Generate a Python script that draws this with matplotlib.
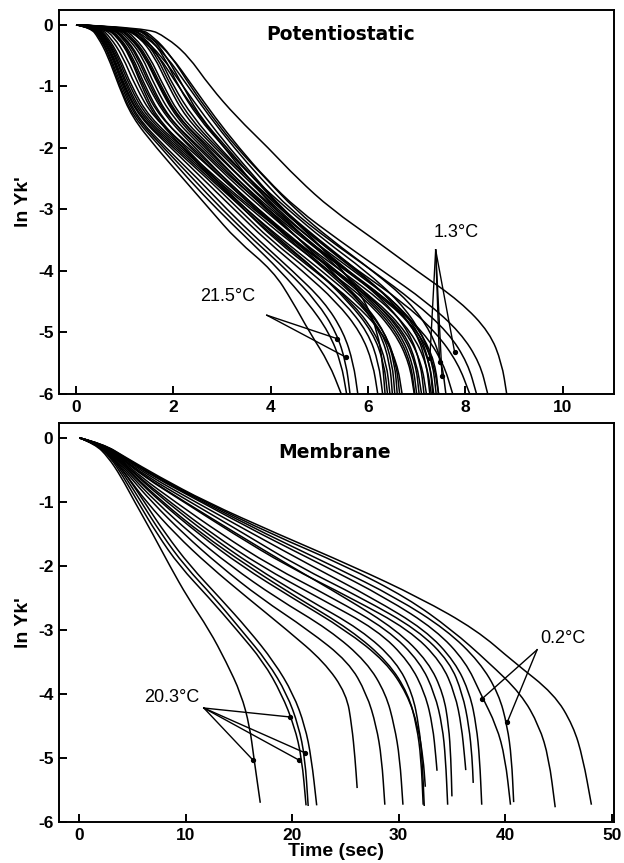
import matplotlib
matplotlib.use("Agg")
import matplotlib.pyplot as plt
from matplotlib.path import Path
from matplotlib.patches import PathPatch

plt.rcParams['font.family'] = ['Liberation Sans', 'DejaVu Sans']
plt.rcParams['axes.unicode_minus'] = False

# --- Potentiostatic: x (sec) where each curve crosses these ln Yk' levels
pot_levels = [0, -0.05, -0.2, -0.5, -1, -1.5, -2, -2.5, -3, -3.5, -4, -4.5, -5, -5.5, -6]
pot_x = [
    [0, 0.30, 0.45, 0.65, 0.88, 1.15, 1.65, 2.20, 2.75, 3.30, 4.05, 4.45, 4.80, 5.20, 5.45],
    [0, 0.32, 0.48, 0.68, 0.90, 1.18, 1.75, 2.30, 2.90, 3.55, 4.20, 4.75, 5.20, 5.45, 5.56],
    [0, 0.33, 0.50, 0.70, 0.93, 1.22, 1.80, 2.40, 3.00, 3.65, 4.35, 4.95, 5.35, 5.55, 5.63],
    [0, 0.35, 0.52, 0.73, 0.96, 1.25, 1.85, 2.50, 3.10, 3.75, 4.45, 5.10, 5.50, 5.70, 5.79],
    [0, 0.36, 0.54, 0.75, 0.98, 1.30, 1.95, 2.60, 3.25, 3.90, 4.65, 5.35, 5.85, 6.10, 6.20],
    [0, 0.38, 0.56, 0.77, 1.00, 1.32, 2.00, 2.70, 3.35, 4.00, 4.80, 5.50, 6.00, 6.22, 6.30],
    [0, 0.40, 0.58, 0.80, 1.03, 1.36, 2.05, 2.75, 3.45, 4.15, 4.95, 5.65, 6.15, 6.38, 6.45],
    [0, 0.42, 0.60, 0.82, 1.06, 1.40, 2.10, 2.80, 3.50, 4.25, 5.05, 5.80, 6.30, 6.50, 6.55],
    [0, 0.44, 0.62, 0.85, 1.10, 1.45, 2.15, 2.85, 3.60, 4.35, 5.20, 6.00, 6.55, 6.85, 6.95],
    [0, 0.46, 0.65, 0.88, 1.14, 1.50, 2.20, 2.90, 3.65, 4.45, 5.30, 6.15, 6.75, 7.00, 7.10],
    [0, 0.50, 0.70, 0.95, 1.22, 1.58, 2.30, 3.00, 3.70, 4.40, 5.15, 5.85, 6.35, 6.58, 6.65],
    [0, 0.55, 0.78, 1.02, 1.30, 1.62, 2.20, 2.80, 3.45, 4.10, 4.90, 5.70, 6.30, 6.60, 6.70],
    [0, 0.60, 0.85, 1.10, 1.35, 1.65, 2.25, 2.85, 3.50, 4.20, 4.95, 5.60, 6.10, 6.33, 6.40],
    [0, 0.62, 0.88, 1.12, 1.38, 1.72, 2.40, 3.05, 3.75, 4.50, 5.30, 6.05, 6.60, 6.88, 6.96],
    [0, 0.65, 0.90, 1.15, 1.42, 1.75, 2.35, 3.00, 3.70, 4.45, 5.35, 6.20, 6.80, 7.10, 7.20],
    [0, 0.70, 0.95, 1.20, 1.48, 1.85, 2.45, 3.05, 3.75, 4.45, 5.20, 5.90, 6.35, 6.55, 6.60],
    [0, 0.72, 0.98, 1.25, 1.52, 1.88, 2.55, 3.20, 3.95, 4.70, 5.55, 6.40, 7.05, 7.35, 7.45],
    [0, 0.75, 1.00, 1.28, 1.56, 1.90, 2.50, 3.15, 3.85, 4.60, 5.45, 6.30, 6.90, 7.20, 7.30],
    [0, 0.80, 1.05, 1.35, 1.62, 1.98, 2.60, 3.25, 3.90, 4.60, 5.35, 6.10, 6.65, 6.92, 7.00],
    [0, 0.85, 1.10, 1.40, 1.70, 2.05, 2.65, 3.30, 4.00, 4.75, 5.60, 6.45, 7.00, 7.27, 7.35],
    [0, 0.85, 1.12, 1.42, 1.72, 2.08, 2.75, 3.40, 4.05, 4.75, 5.45, 6.15, 6.70, 6.98, 7.05],
    [0, 0.90, 1.15, 1.45, 1.75, 2.10, 2.70, 3.30, 3.95, 4.60, 5.25, 5.85, 6.25, 6.45, 6.50],
    [0, 0.95, 1.20, 1.50, 1.80, 2.15, 2.80, 3.40, 4.10, 4.85, 5.70, 6.55, 7.10, 7.38, 7.45],
    [0, 1.00, 1.30, 1.60, 1.90, 2.25, 2.85, 3.50, 4.15, 4.85, 5.60, 6.35, 6.85, 7.08, 7.15],
    [0, 1.05, 1.35, 1.65, 1.95, 2.32, 2.90, 3.55, 4.20, 4.95, 5.75, 6.55, 7.05, 7.27, 7.33],
    [0, 1.10, 1.40, 1.70, 2.00, 2.40, 2.95, 3.55, 4.25, 5.00, 5.80, 6.50, 7.00, 7.20, 7.27],
    [0, 1.20, 1.50, 1.80, 2.10, 2.50, 3.05, 3.65, 4.35, 5.10, 5.95, 6.65, 7.10, 7.33, 7.40],
    [0, 1.25, 1.55, 1.85, 2.20, 2.55, 3.10, 3.65, 4.25, 4.90, 5.50, 5.95, 6.20, 6.30, 6.35],
    [0, 1.30, 1.60, 1.95, 2.35, 2.80, 3.30, 3.90, 4.50, 5.25, 6.10, 6.85, 7.30, 7.52, 7.60],
    [0, 0.95, 1.30, 1.70, 2.10, 2.55, 3.05, 3.55, 4.10, 4.75, 5.55, 6.45, 7.15, 7.55, 7.74],
    [0, 1.00, 1.35, 1.75, 2.20, 2.65, 3.15, 3.70, 4.25, 4.95, 5.80, 6.70, 7.40, 7.85, 8.09],
    [0, 1.10, 1.45, 1.85, 2.30, 2.75, 3.25, 3.80, 4.40, 5.20, 6.10, 6.95, 7.65, 8.05, 8.23],
    [0, 1.20, 1.55, 1.95, 2.40, 2.85, 3.35, 3.90, 4.55, 5.40, 6.30, 7.20, 7.90, 8.30, 8.46],
    [0, 1.45, 1.85, 2.30, 2.75, 3.30, 3.95, 4.55, 5.25, 6.15, 7.00, 7.90, 8.50, 8.75, 8.85],
]

# --- Membrane: x (sec) at these levels, then each curve's end point
mem_levels = [0, -0.1, -0.3, -0.6, -1, -1.5, -2, -2.5, -3, -3.5, -4, -4.5, -5]
mem_x = [
    [0, 1.5, 2.7, 3.9, 5.2, 6.9, 8.5, 10.2, 12.2, 13.8, 15.2, 16.0, 16.4],
    [0, 1.6, 2.9, 4.1, 5.5, 7.3, 9.4, 12.2, 14.8, 17.3, 19.0, 20.2, 20.9],
    [0, 1.6, 3.0, 4.3, 5.8, 7.7, 9.9, 12.7, 15.2, 17.7, 19.5, 20.6, 21.2],
    [0, 1.7, 3.1, 4.5, 6.1, 8.1, 10.4, 13.2, 15.9, 18.3, 20.1, 21.2, 21.8],
    [0, 1.7, 3.1, 4.5, 6.3, 9.0, 12.2, 15.8, 19.5, 23.0, 25.1, 25.6, 25.9],
    [0, 1.8, 3.2, 4.7, 6.8, 9.8, 13.2, 17.0, 21.5, 25.3, 27.0, 27.9, 28.4],
    [0, 1.8, 3.3, 4.9, 7.2, 10.5, 14.2, 18.5, 23.5, 27.0, 28.8, 29.6, 30.1],
    [0, 1.9, 3.4, 5.2, 7.8, 11.5, 15.8, 20.5, 25.5, 29.0, 30.9, 31.7, 32.1],
    [0, 1.9, 3.4, 5.1, 7.6, 11.2, 15.2, 20.0, 25.0, 28.8, 30.8, 31.8, 32.3],
    [0, 1.9, 3.5, 5.4, 8.2, 12.0, 16.3, 21.2, 26.5, 29.8, 31.3, 31.9, 32.2],
    [0, 2.0, 3.6, 5.5, 8.5, 12.5, 17.0, 22.5, 28.0, 31.0, 32.5, 33.2, 33.5],
    [0, 2.0, 3.7, 5.7, 9.0, 13.3, 18.0, 23.8, 29.0, 32.0, 33.4, 34.1, 34.4],
    [0, 2.0, 3.8, 6.1, 9.9, 14.8, 19.8, 25.0, 29.8, 32.8, 34.2, 34.7, 34.9],
    [0, 2.0, 3.8, 6.0, 9.8, 14.5, 19.5, 25.5, 31.0, 34.0, 35.3, 35.9, 36.2],
    [0, 2.1, 3.9, 6.3, 10.4, 15.5, 20.5, 26.5, 31.8, 34.8, 36.0, 36.6, 36.9],
    [0, 2.1, 4.0, 6.6, 10.9, 16.3, 21.8, 27.5, 32.5, 35.3, 36.7, 37.3, 37.6],
    [0, 2.2, 4.1, 6.9, 11.4, 17.0, 23.0, 28.8, 33.5, 36.3, 37.7, 39.2, 40.0],
    [0, 2.2, 4.1, 7.0, 11.6, 17.5, 23.8, 29.8, 34.5, 37.6, 39.4, 40.2, 40.6],
    [0, 2.3, 4.2, 7.2, 11.8, 18.0, 25.0, 30.8, 35.0, 38.4, 41.5, 43.2, 44.1],
    [0, 2.3, 4.3, 7.4, 11.9, 18.6, 25.6, 32.0, 37.3, 40.8, 44.6, 46.4, 47.3],
]
mem_end_x = [17.0, 21.3, 21.5, 22.3, 26.1, 28.7, 30.4, 32.3, 32.5, 32.4, 33.6, 34.6,
             35.0, 36.3, 37.0, 37.8, 40.5, 40.8, 44.7, 48.1]
mem_end_y = [-5.7, -5.74, -5.75, -5.74, -5.47, -5.73, -5.73, -5.73, -5.45, -5.75, -5.2,
             -5.73, -5.6, -5.19, -5.39, -5.73, -5.73, -5.69, -5.77, -5.73]

# temperature labels: text position, apex of leader lines, marked points
pot_lo_text = (3.12, -4.42)
pot_lo_apex = (3.92, -4.72)
pot_lo_dots = [(5.36, -5.1), (5.54, -5.4)]
pot_hi_text = (7.82, -3.38)
pot_hi_apex = (7.39, -3.66)
pot_hi_dots = [(7.27, -5.42), (7.47, -5.48), (7.78, -5.32), (7.52, -5.7)]
mem_hi_text = (8.7, -4.05)
mem_hi_apex = (11.7, -4.22)
mem_hi_dots = [(19.8, -4.36), (21.2, -4.92), (20.6, -5.03), (16.3, -5.03)]
mem_lo_text = (45.4, -3.13)
mem_lo_apex = (43.0, -3.31)
mem_lo_dots = [(37.8, -4.08), (40.2, -4.44)]


def smooth_curve(ax, xs, ys):
    '''Draws a curve through the knots, rounded with quadratic bezier segments'''
    verts = [(xs[0], ys[0])]
    codes = [Path.MOVETO]
    for i in range(1, len(xs) - 1):
        verts.append((xs[i], ys[i]))
        verts.append(((xs[i] + xs[i + 1]) / 2, (ys[i] + ys[i + 1]) / 2))
        codes += [Path.CURVE3, Path.CURVE3]
    verts.append((xs[-1], ys[-1]))
    codes.append(Path.LINETO)
    ax.add_patch(PathPatch(Path(verts, codes), fill=False, edgecolor='black', lw=1.1))


def style_axes(ax, xticks):
    for s in ax.spines.values():
        s.set_linewidth(1.4)
    ax.set_xticks(xticks)
    ax.set_yticks([0, -1, -2, -3, -4, -5, -6])
    ax.tick_params(direction='in', length=6, width=1.4, labelsize=12.5, pad=4,
                   top=False, right=False)
    for lab in ax.get_xticklabels() + ax.get_yticklabels():
        lab.set_fontweight('bold')
    ax.set_ylabel("ln Yk'", fontsize=14, fontweight='bold', labelpad=4)


def leaders(ax, text, apex, dots, label):
    ax.text(text[0], text[1], label, fontsize=13, ha='center', va='center')
    for d in dots:
        ax.plot([apex[0], d[0]], [apex[1], d[1]], color='black', lw=1.0)
        ax.plot(d[0], d[1], 'o', color='black', ms=2.8)


fig = plt.figure(figsize=(6.24, 8.63), dpi=100)
ax1 = fig.add_axes([0.0946, 0.5435, 0.889, 0.4449])
ax2 = fig.add_axes([0.0946, 0.0475, 0.889, 0.4623])

for xs in pot_x:
    smooth_curve(ax1, xs, pot_levels)
ax1.set_xlim(-0.35, 11.05)
ax1.set_ylim(-6, 0.24)
style_axes(ax1, [0, 2, 4, 6, 8, 10])
ax1.text(0.508, 0.935, 'Potentiostatic', transform=ax1.transAxes, ha='center',
         va='center', fontsize=13.5, fontweight='bold', family='DejaVu Sans')
leaders(ax1, pot_lo_text, pot_lo_apex, pot_lo_dots, '21.5°C')
leaders(ax1, pot_hi_text, pot_hi_apex, pot_hi_dots, '1.3°C')

for i, xs in enumerate(mem_x):
    smooth_curve(ax2, xs + [mem_end_x[i]], mem_levels + [mem_end_y[i]])
ax2.set_xlim(-1.9, 50.2)
ax2.set_ylim(-6, 0.23)
style_axes(ax2, [0, 10, 20, 30, 40, 50])
ax2.set_xlabel('Time (sec)', fontsize=14, fontweight='bold', labelpad=0)
ax2.text(0.497, 0.927, 'Membrane', transform=ax2.transAxes, ha='center',
         va='center', fontsize=13.5, fontweight='bold', family='DejaVu Sans')
leaders(ax2, mem_hi_text, mem_hi_apex, mem_hi_dots, '20.3°C')
leaders(ax2, mem_lo_text, mem_lo_apex, mem_lo_dots, '0.2°C')

fig.savefig('out.png', dpi=100)
